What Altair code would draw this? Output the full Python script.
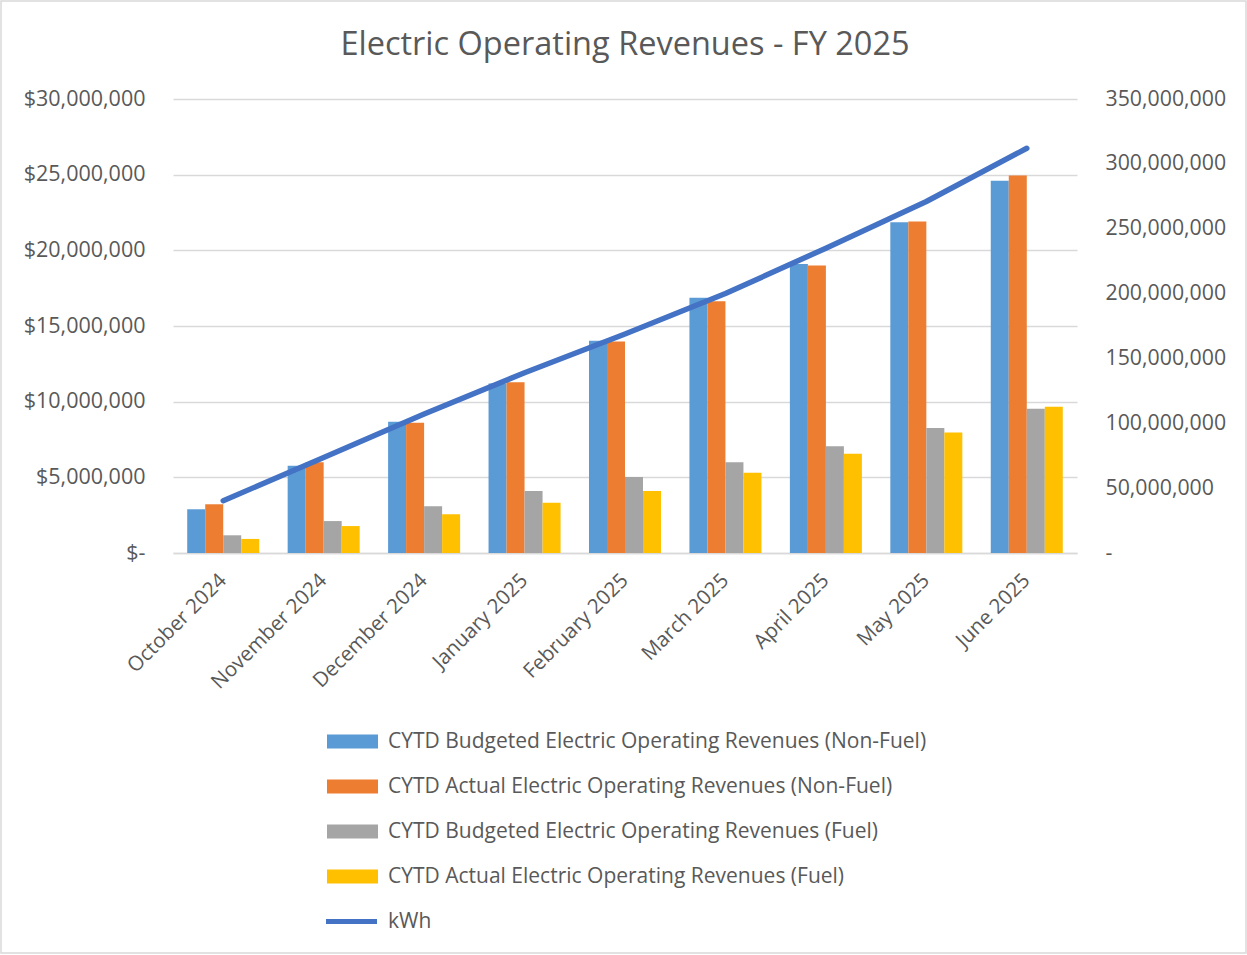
import altair as alt
import pandas as pd

# Months on the category axis
months = [
    "October 2024", "November 2024", "December 2024", "January 2025",
    "February 2025", "March 2025", "April 2025", "May 2025", "June 2025",
]

# Cumulative fiscal-year-to-date revenues, dollars
budget_nonfuel = [2890000, 5770000, 8680000, 11200000, 14030000, 16870000, 19100000, 21850000, 24600000]
actual_nonfuel = [3220000, 6000000, 8610000, 11280000, 13970000, 16630000, 18990000, 21900000, 24940000]
budget_fuel = [1170000, 2110000, 3090000, 4100000, 5020000, 6000000, 7050000, 8260000, 9540000]
actual_fuel = [930000, 1780000, 2560000, 3320000, 4100000, 5310000, 6560000, 7970000, 9670000]

# Cumulative energy sold, kWh (right axis)
kwh = [40300000, 73600000, 107200000, 139000000, 168800000, 200000000, 235000000, 271000000, 312000000]

series_names = [
    "CYTD Budgeted Electric Operating Revenues (Non-Fuel)",
    "CYTD Actual Electric Operating Revenues (Non-Fuel)",
    "CYTD Budgeted Electric Operating Revenues (Fuel)",
    "CYTD Actual Electric Operating Revenues (Fuel)",
]
series_colors = ["#5B9BD5", "#ED7D31", "#A5A5A5", "#FFC000"]
line_name = "kWh"
line_color = "#4472C4"
chart_title = "Electric Operating Revenues - FY 2025"

rows = []
for name, vals in zip(series_names, [budget_nonfuel, actual_nonfuel, budget_fuel, actual_fuel]):
    for m, v in zip(months, vals):
        rows.append({"month": m, "series": name, "value": v})
bar_df = pd.DataFrame(rows)
line_df = pd.DataFrame({"month": months, "kwh": kwh, "series": [line_name] * len(months)})

FONT = "Open Sans"
TXT = "#595959"
W, H = 904, 454
PAD_L, PAD_T, PAD_R, PAD_B = 173, 99, 170, 402

x_enc = alt.X(
    "month:N", sort=months, title=None,
    scale=alt.Scale(paddingInner=0.283, paddingOuter=0.1415),
    axis=alt.Axis(labelAngle=-45, labelAlign="right", labelBaseline="middle",
                  labelPadding=24, labelFontSize=20.5, labelColor=TXT, labelFont=FONT,
                  ticks=False, domainColor="#D9D9D9", domainWidth=1.5),
)

bars = alt.Chart(bar_df).mark_bar().encode(
    x=x_enc,
    xOffset=alt.XOffset("series:N", sort=series_names, scale=alt.Scale(paddingInner=0)),
    y=alt.Y(
        "value:Q", title=None,
        scale=alt.Scale(domain=[0, 30000000], nice=False),
        axis=alt.Axis(orient="left", values=list(range(0, 30000001, 5000000)),
                      labelExpr="datum.value == 0 ? '$-' : '$' + format(datum.value, ',.0f')",
                      labelFontSize=21.5, labelColor=TXT, labelFont=FONT, labelPadding=28,
                      ticks=False, domain=False, grid=True, gridColor="#D9D9D9", gridWidth=1.3),
    ),
    color=alt.Color(
        "series:N", sort=series_names,
        scale=alt.Scale(domain=series_names, range=series_colors),
        legend=alt.Legend(
            title=None, orient="none", legendX=169, legendY=632,
            symbolType="M-2.55,-0.7H2.55V0.7H-2.55Z", symbolSize=400,
            symbolStrokeWidth=0, labelFontSize=21, labelFont=FONT, labelColor=TXT,
            labelOffset=25, rowPadding=23, labelLimit=800,
        ),
    ),
)

line = alt.Chart(line_df).mark_line(strokeWidth=5.5, strokeCap="round", strokeJoin="round").encode(
    x=alt.X("month:N", sort=months),
    y=alt.Y(
        "kwh:Q", title=None,
        scale=alt.Scale(domain=[0, 350000000], nice=False),
        axis=alt.Axis(orient="right", values=list(range(0, 350000001, 50000000)),
                      labelExpr="datum.value == 0 ? '-' : format(datum.value, ',.0f')",
                      labelFontSize=21.3, labelColor=TXT, labelFont=FONT, labelPadding=28,
                      ticks=False, domain=False, grid=False),
    ),
    stroke=alt.Stroke(
        "series:N",
        scale=alt.Scale(domain=[line_name], range=[line_color]),
        legend=alt.Legend(
            title=None, orient="none", legendX=166, legendY=810,
            symbolType="M-2.55,0H2.55", symbolSize=400, symbolStrokeWidth=5,
            labelFontSize=21, labelFont=FONT, labelColor=TXT, labelOffset=24,
        ),
    ),
)

# Chart title, centred over the plot area
title = alt.Chart(alt.Data(values=[{"t": chart_title}])).mark_text(
    font=FONT, fontSize=32.5, color=TXT, align="center", baseline="alphabetic"
).encode(text="t:N", x=alt.value(W / 2), y=alt.value(-44))

# Light border around the whole chart area
frame = alt.Chart(alt.Data(values=[{}])).mark_rect(
    fill=None, stroke="#D9D9D9", strokeWidth=1.5
).encode(
    x=alt.value(-PAD_L + 1), x2=alt.value(W + PAD_R - 1),
    y=alt.value(-PAD_T + 1), y2=alt.value(H + PAD_B - 2),
)

chart = alt.layer(frame, title, bars, line).resolve_scale(
    y="independent", color="independent"
).properties(
    width=W, height=H,
    autosize=alt.AutoSizeParams(type="none"),
    padding={"left": PAD_L, "top": PAD_T, "right": PAD_R, "bottom": PAD_B},
    background="white",
).configure_view(stroke=None)

chart.save("out.html", embed_options={"renderer": "svg", "actions": False})
